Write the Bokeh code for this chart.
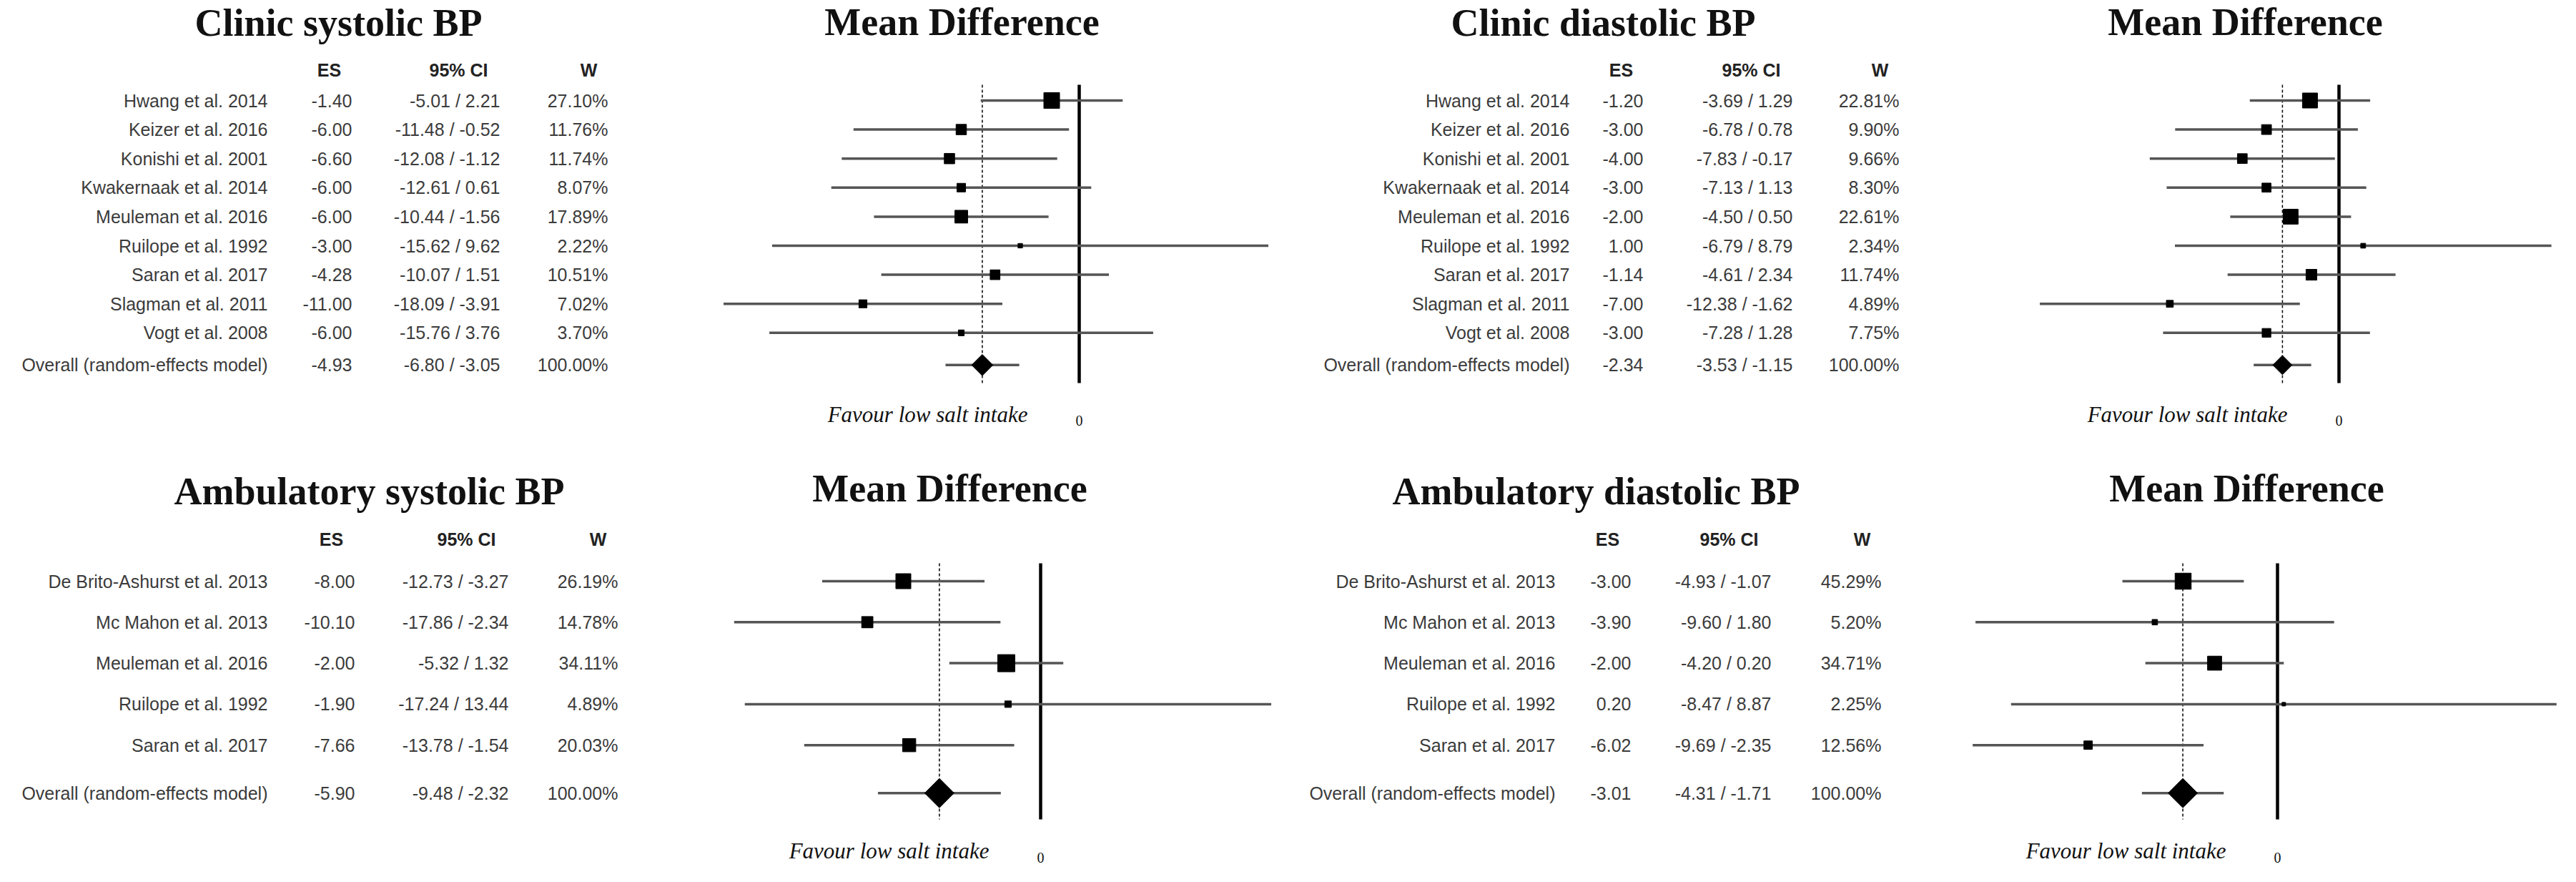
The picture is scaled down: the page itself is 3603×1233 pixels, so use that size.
import math
from bokeh.plotting import figure
from bokeh.models import Range1d
from bokeh.layouts import column, row
from bokeh.embed import file_html
from bokeh.resources import INLINE
from bokeh.core.properties import value

# ---------------- data ----------------
CS_STUDIES = ["Hwang et al. 2014", "Keizer et al. 2016", "Konishi et al. 2001",
              "Kwakernaak et al. 2014", "Meuleman et al. 2016", "Ruilope et al. 1992",
              "Saran et al. 2017", "Slagman et al. 2011", "Vogt et al. 2008"]
CS_ES = [-1.40, -6.00, -6.60, -6.00, -6.00, -3.00, -4.28, -11.00, -6.00]
CS_LO = [-5.01, -11.48, -12.08, -12.61, -10.44, -15.62, -10.07, -18.09, -15.76]
CS_HI = [2.21, -0.52, -1.12, 0.61, -1.56, 9.62, 1.51, -3.91, 3.76]
CS_W = [27.10, 11.76, 11.74, 8.07, 17.89, 2.22, 10.51, 7.02, 3.70]
CS_OVERALL = [-4.93, -6.80, -3.05]

CD_STUDIES = CS_STUDIES
CD_ES = [-1.20, -3.00, -4.00, -3.00, -2.00, 1.00, -1.14, -7.00, -3.00]
CD_LO = [-3.69, -6.78, -7.83, -7.13, -4.50, -6.79, -4.61, -12.38, -7.28]
CD_HI = [1.29, 0.78, -0.17, 1.13, 0.50, 8.79, 2.34, -1.62, 1.28]
CD_W = [22.81, 9.90, 9.66, 8.30, 22.61, 2.34, 11.74, 4.89, 7.75]
CD_OVERALL = [-2.34, -3.53, -1.15]

AS_STUDIES = ["De Brito-Ashurst et al. 2013", "Mc Mahon et al. 2013", "Meuleman et al. 2016",
              "Ruilope et al. 1992", "Saran et al. 2017"]
AS_ES = [-8.00, -10.10, -2.00, -1.90, -7.66]
AS_LO = [-12.73, -17.86, -5.32, -17.24, -13.78]
AS_HI = [-3.27, -2.34, 1.32, 13.44, -1.54]
AS_W = [26.19, 14.78, 34.11, 4.89, 20.03]
AS_OVERALL = [-5.90, -9.48, -2.32]

AD_STUDIES = AS_STUDIES
AD_ES = [-3.00, -3.90, -2.00, 0.20, -6.02]
AD_LO = [-4.93, -9.60, -4.20, -8.47, -9.69]
AD_HI = [-1.07, 1.80, 0.20, 8.87, -2.35]
AD_W = [45.29, 5.20, 34.71, 2.25, 12.56]
AD_OVERALL = [-3.01, -4.31, -1.71]

OVERALL_LABEL = "Overall (random-effects model)"
HEADERS = ["ES", "95% CI", "W"]
MD_TITLE = "Mean Difference"
FAVOUR = "Favour low salt intake"
ZERO_LABEL = "0"

# ---------------- layout specs (pixel positions) ----------------
TOP = dict(H=608, y0=140, dy=40.6, ov_gap=0.11, vline=(118, 535), fav_y=579, zero_y=587,
           title_y=31, md_y=30, head_y=97)
BOT = dict(H=609, y0=204, dy=57.3, ov_gap=0.17, vline=(179, 537), fav_y=581, zero_y=590,
           title_y=78, md_y=74, head_y=145)

PANELS = [
    dict(W=1793, title="Clinic systolic BP", title_x=473, md_x=1345,
         head_x=[460, 641, 823], name_r=374, es_r=492, ci_r=699, w_r=850,
         zero_px=1509, scale=27.5, sq_max=22, dia=21, rowspec=TOP,
         data=(CS_STUDIES, CS_ES, CS_LO, CS_HI, CS_W, CS_OVERALL)),
    dict(W=1794, title="Clinic diastolic BP", title_x=449, md_x=1347,
         head_x=[474, 656, 836], name_r=402, es_r=505, ci_r=714, w_r=863,
         zero_px=1478, scale=33.8, sq_max=21, dia=19, rowspec=TOP,
         data=(CD_STUDIES, CD_ES, CD_LO, CD_HI, CD_W, CD_OVERALL)),
    dict(W=1793, title="Ambulatory systolic BP", title_x=516, md_x=1328,
         head_x=[463, 652, 836], name_r=374, es_r=496, ci_r=711, w_r=864,
         zero_px=1455, scale=24.0, sq_max=24, dia=29, rowspec=BOT,
         data=(AS_STUDIES, AS_ES, AS_LO, AS_HI, AS_W, AS_OVERALL)),
    dict(W=1794, title="Ambulatory diastolic BP", title_x=439, md_x=1349,
         head_x=[455, 625, 811], name_r=382, es_r=488, ci_r=684, w_r=838,
         zero_px=1392, scale=44.0, sq_max=22.5, dia=29, rowspec=BOT,
         data=(AD_STUDIES, AD_ES, AD_LO, AD_HI, AD_W, AD_OVERALL)),
]

SANS = value("Liberation Sans")
SERIF = value("Liberation Serif")
TXT = "#3b3b3b"
CI_COLOR = "#555555"


def make_panel(spec):
    rs = spec["rowspec"]
    W, H = spec["W"], rs["H"]
    studies, es, lo, hi, w, ov = spec["data"]
    n = len(studies)
    p = figure(width=W, height=H, x_range=Range1d(0, W), y_range=Range1d(H, 0),
               output_backend="svg", toolbar_location=None, min_border=0,
               x_axis_location=None, y_axis_location=None, outline_line_color=None,
               background_fill_color="white", border_fill_color="white")
    p.grid.visible = False
    z, s = spec["zero_px"], spec["scale"]
    p.extra_x_ranges = {"md": Range1d(-z / s, (W - z) / s)}
    y0, dy = rs["y0"], rs["dy"]
    p.extra_y_ranges = {"row": Range1d((H - y0) / dy, -y0 / dy)}

    rows = list(range(n))
    ov_row = n - 1 + 1 + rs["ov_gap"]
    all_rows = rows + [ov_row]

    # titles
    p.text(x=[spec["title_x"]], y=[rs["title_y"]], text=[spec["title"]],
           text_align="center", text_baseline="middle", text_font=SERIF,
           text_font_style="bold", text_font_size="54px", text_color="#111111")
    p.text(x=[spec["md_x"]], y=[rs["md_y"]], text=[MD_TITLE],
           text_align="center", text_baseline="middle", text_font=SERIF,
           text_font_style="bold", text_font_size="54px", text_color="#111111")

    # headers
    p.text(x=spec["head_x"], y=[rs["head_y"]] * 3, text=HEADERS,
           text_align="center", text_baseline="middle", text_font=SANS,
           text_font_style="bold", text_font_size="25px", text_color="#222222")

    # table columns
    names = studies + [OVERALL_LABEL]
    es_all = es + [ov[0]]
    lo_all = lo + [ov[1]]
    hi_all = hi + [ov[2]]
    w_all = w + [100.0]
    es_txt = ["%.2f" % v for v in es_all]
    ci_txt = ["%.2f / %.2f" % (a, b) for a, b in zip(lo_all, hi_all)]
    w_txt = ["%.2f%%" % v for v in w_all]
    for xr, txt in ((spec["name_r"], names), (spec["es_r"], es_txt),
                    (spec["ci_r"], ci_txt), (spec["w_r"], w_txt)):
        p.text(x=[xr] * len(txt), y=all_rows, text=txt, y_range_name="row",
               text_align="right", text_baseline="middle", text_font=SANS,
               text_font_size="25px", text_color=TXT)

    # reference lines
    v0, v1 = rs["vline"]
    p.segment(x0=[ov[0]], x1=[ov[0]], y0=[v0], y1=[v1], x_range_name="md",
              line_color="black", line_width=1.5, line_dash="4 3")
    p.segment(x0=[0], x1=[0], y0=[v0], y1=[v1], x_range_name="md",
              line_color="black", line_width=4.5)

    # CI lines
    p.segment(x0=lo_all, x1=hi_all, y0=all_rows, y1=all_rows,
              x_range_name="md", y_range_name="row",
              line_color=CI_COLOR, line_width=3.5)

    # study squares sized by weight
    wmax = max(w)
    sizes = [max(4.0, spec["sq_max"] * math.sqrt(v / wmax)) for v in w]
    p.scatter(x=es, y=rows, size=sizes, marker="square", x_range_name="md",
              y_range_name="row", fill_color="black", line_color="black")

    # overall diamond
    p.scatter(x=[ov[0]], y=[ov_row], size=spec["dia"], marker="square",
              angle=math.pi / 4, x_range_name="md", y_range_name="row",
              fill_color="black", line_color="black")

    # bottom labels
    p.text(x=[0], y=[rs["fav_y"]], text=[FAVOUR], x_range_name="md", x_offset=-72,
           text_align="right", text_baseline="middle", text_font=SERIF,
           text_font_style="italic", text_font_size="31px", text_color="#111111")
    p.text(x=[0], y=[rs["zero_y"]], text=[ZERO_LABEL], x_range_name="md",
           text_align="center", text_baseline="middle", text_font=SERIF,
           text_font_size="20px", text_color="#111111")
    return p


figs = [make_panel(sp) for sp in PANELS]
layout = column(row(figs[0], figs[1]), row(figs[2], figs[3]))

open("out.html", "w").write(file_html(layout, INLINE))
